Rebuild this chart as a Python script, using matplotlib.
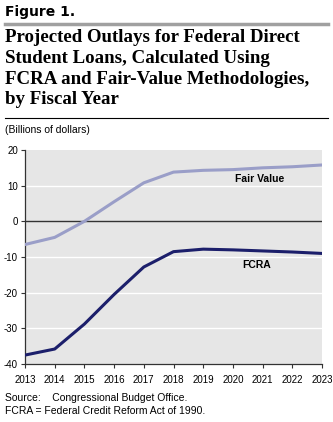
import matplotlib
matplotlib.use("Agg")
import matplotlib.pyplot as plt

years = [2013, 2014, 2015, 2016, 2017, 2018, 2019, 2020, 2021, 2022, 2023]
fair_value = [-6.5, -4.5, 0.0, 5.5, 10.8, 13.8, 14.3, 14.5, 15.0, 15.3, 15.8]
fcra = [-37.5, -35.8, -28.8, -20.5, -12.8, -8.5, -7.8, -8.0, -8.3, -8.6, -9.0]
y_ticks = [-40, -30, -20, -10, 0, 10, 20]

title = ("Projected Outlays for Federal Direct\nStudent Loans, Calculated Using\n"
         "FCRA and Fair-Value Methodologies,\nby Fiscal Year")

W, H = 333, 422
fig = plt.figure(figsize=(W / 100, H / 100), dpi=100)
plt.rcParams['font.family'] = ['Liberation Sans', 'DejaVu Sans']
plt.rcParams['axes.unicode_minus'] = False

def fy(py):
    return 1 - py / H

# header
fig.text(5 / W, fy(12), "Figure 1.", fontsize=10, fontweight='heavy',
         family='DejaVu Sans', va='center', ha='left')
fig.add_artist(plt.Line2D([5 / W, 328 / W], [fy(24), fy(24)], color='#a0a0a0', lw=2.5))
fig.text(5 / W, fy(29), title, fontsize=13.6, fontweight='bold', family='Liberation Serif',
         va='top', ha='left', linespacing=1.29)
fig.add_artist(plt.Line2D([5 / W, 328 / W], [fy(118), fy(118)], color='black', lw=0.8))
fig.text(5 / W, fy(130), "(Billions of dollars)", fontsize=7.5, va='center', ha='left')

ax = fig.add_axes([25 / W, fy(364), (322 - 25) / W, (364 - 150) / H])
ax.set_facecolor('#e6e6e6')
for yt in y_ticks[1:-1]:
    if yt != 0:
        ax.axhline(yt, color='white', lw=1.0, zorder=1)
ax.axhline(0, color='#333333', lw=1.0, zorder=2)

ax.plot(years, fair_value, color='#9a9ec8', lw=2.2, zorder=3)
ax.plot(years, fcra, color='#1c1f6b', lw=2.2, zorder=3)

ax.text(2020.9, 11.8, "Fair Value", fontsize=7.5, fontweight='bold', ha='center', va='center')
ax.text(2020.8, -12.3, "FCRA", fontsize=7.5, fontweight='bold', ha='center', va='center')

ax.set_xlim(2013, 2023)
ax.set_ylim(-40, 20)
ax.set_xticks(years)
ax.set_yticks(y_ticks)
ax.tick_params(axis='both', labelsize=7, length=3, width=0.8, color='#333333', pad=2)
ax.tick_params(axis='x', pad=5)
for s in ['top', 'right']:
    ax.spines[s].set_visible(False)
for s in ['left', 'bottom']:
    ax.spines[s].set_color('#333333')
    ax.spines[s].set_linewidth(0.9)

fig.text(5 / W, fy(398), "Source:    Congressional Budget Office.", fontsize=7.5, va='center', ha='left')
fig.text(5 / W, fy(411), "FCRA = Federal Credit Reform Act of 1990.", fontsize=7.5, va='center', ha='left')

fig.savefig("out.png", dpi=100)
